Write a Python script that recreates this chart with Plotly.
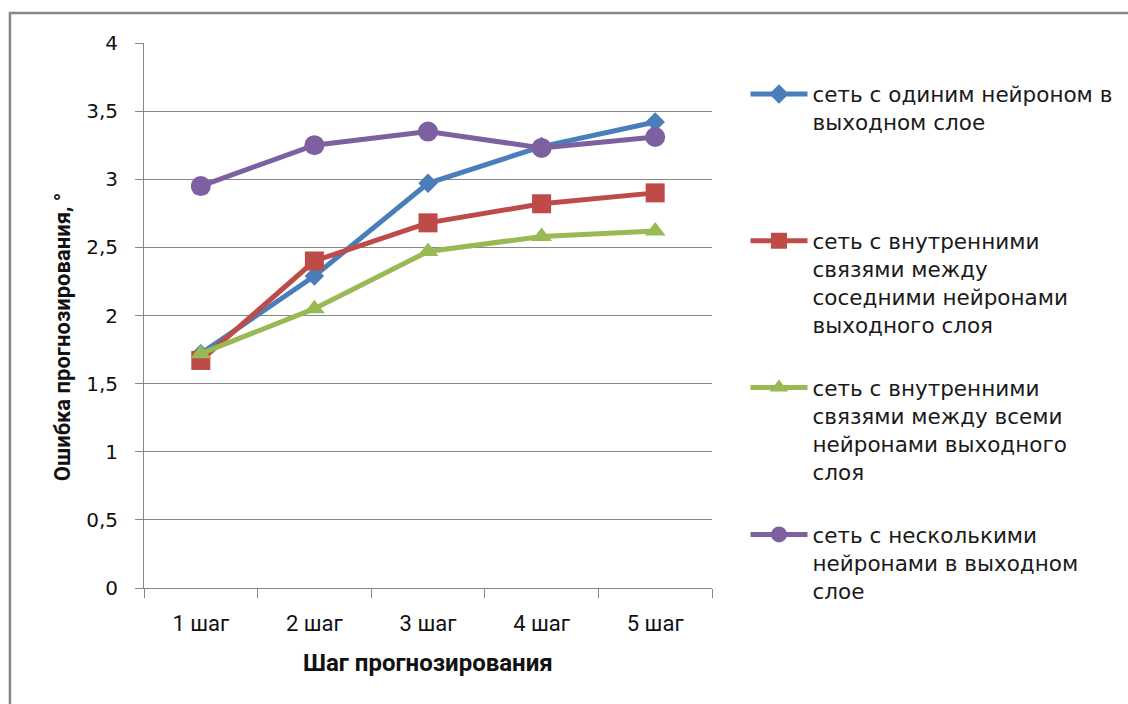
import plotly.graph_objects as go

# Forecast horizon categories
steps = ["1 шаг", "2 шаг", "3 шаг", "4 шаг", "5 шаг"]

# Forecast error per network type, degrees
single_neuron = [1.72, 2.29, 2.97, 3.24, 3.42]
neighbour_links = [1.67, 2.40, 2.68, 2.82, 2.90]
all_links = [1.72, 2.05, 2.47, 2.58, 2.62]
multi_neuron = [2.95, 3.25, 3.35, 3.23, 3.31]

y_ticks = [0, 0.5, 1, 1.5, 2, 2.5, 3, 3.5, 4]

series = [
    ("сеть с одиним нейроном в<br>выходном слое<br> <br> ", single_neuron, "#4A7EBB", "diamond", 15),
    ("сеть с внутренними<br>связями между<br>соседними нейронами<br>выходного слоя", neighbour_links, "#BE4B48", "square", 19),
    ("сеть с внутренними<br>связями между всеми<br>нейронами выходного<br>слоя", all_links, "#98B954", "triangle-up", 18),
    ("сеть с несколькими<br>нейронами в выходном<br>слое", multi_neuron, "#7D60A0", "circle", 20),
]

fig = go.Figure()
for i, (name, vals, color, symbol, size) in enumerate(series):
    fig.add_trace(go.Scatter(
        x=steps, y=vals, name=name, mode="lines+markers",
        legendgroup=f"g{i}",
        line=dict(color=color, width=5),
        marker=dict(symbol=symbol, size=size, color=color, line=dict(width=0)),
    ))

grid = "#878787"
fig.update_layout(
    width=1128, height=704,
    margin=dict(l=144, r=416, t=43, b=116, autoexpand=False),
    paper_bgcolor="white", plot_bgcolor="white",
    separators=", ",
    showlegend=True,
    legend=dict(
        x=1.059, y=0.944, xanchor="left", yanchor="top",
        valign="top", tracegroupgap=32, itemwidth=57,
        font=dict(family="DejaVu Sans", size=21.5, color="#1a1a1a"),
        bgcolor="rgba(0,0,0,0)",
    ),
    xaxis=dict(
        type="category", range=[-0.5, 4.5],
        showgrid=False, tickson="boundaries", ticks="outside", ticklen=9,
        tickcolor=grid, showline=True, linecolor=grid, linewidth=1,
        ticklabelstandoff=16,
        tickfont=dict(family="Roboto", size=22, color="#111"),
    ),
    yaxis=dict(
        range=[0, 4], tickvals=y_ticks, showgrid=True, gridcolor=grid, gridwidth=1,
        ticks="outside", ticklen=8, tickcolor=grid, showline=True,
        linecolor=grid, linewidth=1, zeroline=False,
        tickformat=".1~f", ticklabelstandoff=13,
        tickfont=dict(family="DejaVu Sans", size=20, color="#111"),
    ),
    annotations=[
        dict(text="<b>Ошибка прогнозирования, °</b>", textangle=-90,
             xref="paper", yref="paper", x=-0.1444, y=0.462,
             xanchor="center", yanchor="middle", showarrow=False,
             font=dict(family="Roboto", size=22, color="#111")),
        dict(text="<b>Шаг прогнозирования</b>",
             xref="paper", yref="paper", x=0.5, y=-0.138,
             xanchor="center", yanchor="middle", showarrow=False,
             font=dict(family="Roboto", size=24, color="#111")),
    ],
    shapes=[
        dict(type="rect", xref="paper", yref="paper",
             x0=-0.236, y0=-0.3, x1=1.8, y1=1.055,
             line=dict(color="#878787", width=2.5), fillcolor="rgba(0,0,0,0)",
             layer="below"),
    ],
)

fig.write_html("out.html")
